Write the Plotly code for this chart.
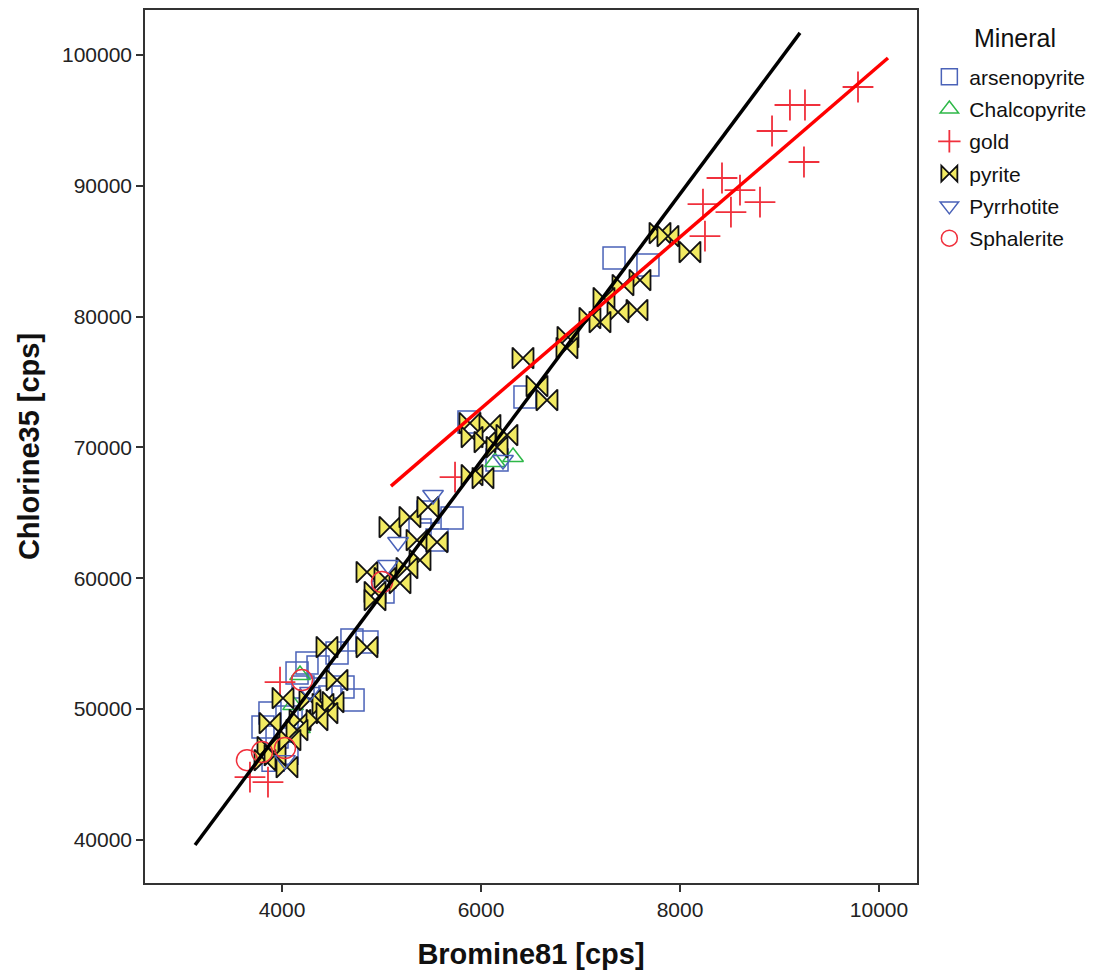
import plotly.graph_objects as go

# Bromine81 / Chlorine35 counts per analysed grain, grouped by mineral
arsenopyrite_br = [4703, 4854, 4553, 4362, 4251, 4613, 4714, 4312, 3879, 3809, 4050, 3950,
                   3910, 4050, 4211, 4151, 4482, 7337, 7678, 6442, 5879, 5467, 5709, 5558,
                   5387, 5015, 6161]
arsenopyrite_cl = [55277, 55123, 54282, 53212, 53518, 51683, 50690, 49925, 49696, 48626, 49390,
                   47861, 46102, 46637, 51683, 52753, 50920, 84481, 83946, 73854, 71943, 65063,
                   64604, 62922, 63686, 58946, 69038]

chalcopyrite_br = [6141, 6322, 4181, 4111, 4181]
chalcopyrite_cl = [68885, 69267, 52601, 50308, 48549]

gold_br = [9789, 9105, 9256, 8925, 9246, 8422, 8603, 8804, 8231, 8512, 8251, 5739, 3980, 3678, 3859]
gold_cl = [97554, 96178, 96178, 94190, 91820, 90597, 89679, 88762, 88609, 87997, 86163, 67738,
           52066, 44803, 44421]

pyrite_br = [7799, 7879, 8100, 7598, 7427, 7236, 7568, 7377, 7095, 7196, 6874, 6864, 6422, 6563,
             6663, 5889, 6090, 6261, 5910, 6040, 6161, 5910, 6020, 5085, 5286, 5467, 5357, 5558,
             5387, 5256, 4854, 5035, 5186, 4935, 4935, 4452, 4854, 4553, 4010, 4281, 4412, 4513,
             4452, 4181, 4352, 3879, 4151, 3859, 4080, 3829, 4050, 3930]
pyrite_cl = [86392, 86162, 84939, 82799, 82417, 81423, 80505, 80353, 79894, 79588, 78441, 77601,
             76836, 74695, 73625, 71867, 71714, 70949, 70796, 70414, 70032, 67891, 67662, 63916,
             64681, 65445, 62922, 62769, 61393, 60781, 60475, 60017, 59635, 58946, 58335, 54742,
             54742, 52219, 50843, 50690, 50384, 50537, 49696, 49161, 49161, 48931, 48396, 47097,
             47632, 46102, 45567, 46484]

pyrrhotite_br = [5518, 5166, 5065, 6221, 4030, 4281]
pyrrhotite_cl = [66362, 62769, 61011, 69038, 46102, 51302]

sphalerite_br = [3648, 3799, 4030, 4201, 5005]
sphalerite_cl = [46102, 46714, 47020, 52219, 59711]

# Fit lines (end points)
fit_all_br = [3126, 9206]
fit_all_cl = [39620, 101690]
fit_gold_br = [5095, 10090]
fit_gold_cl = [67050, 99770]

x_ticks = [4000, 6000, 8000, 10000]
y_ticks = [40000, 50000, 60000, 70000, 80000, 90000, 100000]

BLUE = "#4a62b8"
GREEN = "#2eb848"
RED = "#f0303c"
YELLOW = "#f2ea62"
FONT = "Liberation Sans, Arial, sans-serif"

fig = go.Figure()

series = [
    ("arsenopyrite", arsenopyrite_br, arsenopyrite_cl,
     dict(symbol="square-open", size=22, color=BLUE, line=dict(width=1.5, color=BLUE))),
    ("Chalcopyrite", chalcopyrite_br, chalcopyrite_cl,
     dict(symbol="triangle-up-open", size=18, color=GREEN, line=dict(width=1.5, color=GREEN))),
    ("gold", gold_br, gold_cl,
     dict(symbol="cross-thin-open", size=22, color=RED, line=dict(width=1.8, color=RED))),
    ("pyrite", pyrite_br, pyrite_cl,
     dict(symbol="bowtie", size=21, color=YELLOW, line=dict(width=1.8, color="#111111"))),
    ("Pyrrhotite", pyrrhotite_br, pyrrhotite_cl,
     dict(symbol="triangle-down-open", size=18, color=BLUE, line=dict(width=1.5, color=BLUE))),
    ("Sphalerite", sphalerite_br, sphalerite_cl,
     dict(symbol="circle-open", size=21, color=RED, line=dict(width=1.5, color=RED))),
]

for i, (name, xs, ys, mk) in enumerate(series):
    fig.add_trace(go.Scatter(
        x=xs, y=ys, mode="markers", name=name, marker=mk,
        legendgroup=f"g{i}",
    ))

fig.add_trace(go.Scatter(x=fit_all_br, y=fit_all_cl, mode="lines",
                         line=dict(color="black", width=3.5), showlegend=False))
fig.add_trace(go.Scatter(x=fit_gold_br, y=fit_gold_cl, mode="lines",
                         line=dict(color="#ff0000", width=3.5), showlegend=False))

axis_common = dict(
    showgrid=False, zeroline=False, showline=True, mirror=True,
    linecolor="#333333", linewidth=1.5,
    ticks="outside", ticklen=7, tickwidth=1.5, tickcolor="#333333",
    tickfont=dict(family=FONT, size=21, color="#222222"),
    tickformat="d",
)

fig.update_layout(
    width=1095, height=980,
    margin=dict(l=145, r=178, t=10, b=97, autoexpand=False),
    paper_bgcolor="white", plot_bgcolor="white",
    font=dict(family=FONT, color="#111111"),
    xaxis=dict(range=[2623, 10382], tickvals=x_ticks,
               title=dict(text="<b>Bromine81 [cps]</b>", font=dict(size=29), standoff=24),
               **axis_common),
    yaxis=dict(range=[36710, 103440], tickvals=y_ticks,
               title=dict(text="<b>Chlorine35 [cps]</b>", font=dict(size=29), standoff=14),
               **axis_common),
    legend=dict(
        x=1.016, y=0.9467, xanchor="left", yanchor="top",
        font=dict(size=21, color="#111111"),
        tracegroupgap=2,
        bgcolor="rgba(0,0,0,0)",
    ),
    annotations=[dict(
        text="Mineral", xref="paper", yref="paper", x=1.127, y=0.9675,
        xanchor="center", yanchor="middle", showarrow=False,
        font=dict(family=FONT, size=25, color="#111111"),
    )],
)

fig.write_html("out.html")
